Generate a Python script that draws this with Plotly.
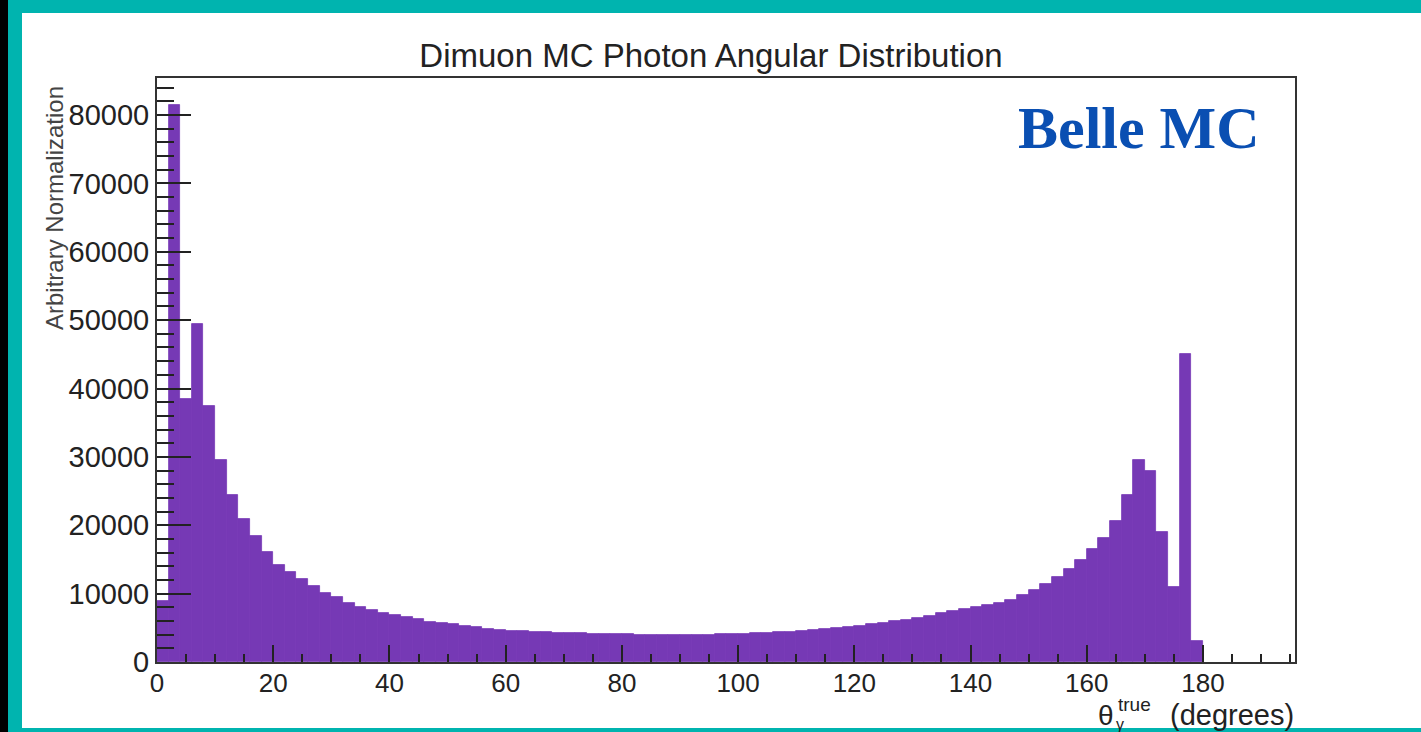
import plotly.graph_objects as go

# ---------------- data ----------------
bin_centers = [1, 3, 5, 7, 9, 11, 13, 15, 17, 19,
               21, 23, 25, 27, 29, 31, 33, 35, 37, 39,
               41, 43, 45, 47, 49, 51, 53, 55, 57, 59,
               61, 63, 65, 67, 69, 71, 73, 75, 77, 79,
               81, 83, 85, 87, 89, 91, 93, 95, 97, 99,
               101, 103, 105, 107, 109, 111, 113, 115, 117, 119,
               121, 123, 125, 127, 129, 131, 133, 135, 137, 139,
               141, 143, 145, 147, 149, 151, 153, 155, 157, 159,
               161, 163, 165, 167, 169, 171, 173, 175, 177, 179]
counts = [8900, 81500, 38500, 49500, 37500, 29500, 24400, 20900, 18500, 16100,
          14200, 13100, 12100, 11100, 10100, 9500, 8700, 8000, 7600, 7200,
          6900, 6600, 6300, 5900, 5700, 5500, 5300, 5100, 4900, 4750,
          4600, 4500, 4450, 4400, 4300, 4250, 4200, 4150, 4100, 4100,
          4050, 4000, 3950, 3900, 3900, 3950, 4000, 4000, 4050, 4100,
          4150, 4200, 4250, 4350, 4450, 4600, 4700, 4850, 5000, 5150,
          5300, 5500, 5700, 5950, 6200, 6500, 6800, 7100, 7400, 7700,
          8000, 8400, 8700, 9100, 9800, 10500, 11400, 12400, 13600, 14900,
          16500, 18200, 20600, 24400, 29600, 27900, 19000, 11000, 45100, 3000]
bin_width = 2

x_tick_vals = [0, 20, 40, 60, 80, 100, 120, 140, 160, 180]
x_tick_text = ["0", "20", "40", "60", "80", "100", "120", "140", "160", "180"]
y_tick_vals = [0, 10000, 20000, 30000, 40000, 50000, 60000, 70000, 80000]
y_tick_text = ["0", "10000", "20000", "30000", "40000", "50000", "60000", "70000", "80000"]

title_text = "Dimuon MC Photon Angular Distribution"
y_title = "Arbitrary Normalization"
badge = "Belle MC"

# ---------------- layout geometry ----------------
W, H = 1421, 732
L, R, T, B = 157, 1295, 78, 662
PURPLE = "#7639b5"
TEAL = "#00b4af"
SANS = "Liberation Sans, Arial, sans-serif"


def px(x):
    return (x - L) / (R - L)


def py(y):
    return (B - y) / (B - T)


fig = go.Figure()
fig.add_trace(go.Bar(
    x=bin_centers, y=counts, width=bin_width,
    marker=dict(color=PURPLE, line=dict(color=PURPLE, width=0.8)),
    showlegend=False, hoverinfo="x+y",
))

fig.update_layout(
    width=W, height=H,
    margin=dict(l=L, r=W - R, t=T, b=H - B, pad=0),
    paper_bgcolor="white", plot_bgcolor="white",
    bargap=0,
    font=dict(family=SANS, color="#222"),
    title=dict(text=title_text, x=711 / W, y=1 - 55 / H,
               xanchor="center", yanchor="middle",
               font=dict(family=SANS, size=33, color="#222")),
    xaxis=dict(
        range=[0, (R - L) / 5.811], showgrid=False, zeroline=False,
        showline=True, linecolor="#333", linewidth=2, mirror=True,
        ticks="inside", ticklen=17, tickwidth=2, tickcolor="#222",
        tickvals=x_tick_vals, ticktext=x_tick_text,
        minor=dict(ticks="inside", ticklen=8, tickwidth=1.5, tickcolor="#222",
                   dtick=5, tick0=0, showgrid=False),
        tickfont=dict(family=SANS, size=26, color="#222"),
        ticklabelstandoff=-3,
        layer="above traces",
    ),
    yaxis=dict(
        range=[0, (B - T) / 0.0068375], showgrid=False, zeroline=False,
        showline=True, linecolor="#333", linewidth=2, mirror=True,
        ticks="inside", ticklen=34, tickwidth=2, tickcolor="#222",
        tickvals=y_tick_vals, ticktext=y_tick_text,
        minor=dict(ticks="inside", ticklen=17, tickwidth=1.5, tickcolor="#222",
                   dtick=2000, tick0=0, showgrid=False),
        tickfont=dict(family=SANS, size=29, color="#222"),
        layer="above traces",
    ),
)

annotations = [
    dict(text=y_title, x=px(54), y=py(84), xref="paper", yref="paper",
         xanchor="center", yanchor="top", textangle=-90, showarrow=False,
         font=dict(family=SANS, size=24, color="#444")),
    dict(text="<b>" + badge + "</b>", x=px(1139), y=py(128), xref="paper", yref="paper",
         xanchor="center", yanchor="middle", showarrow=False,
         font=dict(family="Liberation Serif, Times New Roman, serif", size=60, color="#0a4fb2")),
    dict(text="(degrees)", x=px(1296), y=py(715), xref="paper", yref="paper",
         xanchor="right", yanchor="middle", showarrow=False,
         font=dict(family=SANS, size=29, color="#222")),
    dict(text="θ", x=px(1116), y=py(715), xref="paper", yref="paper",
         xanchor="right", yanchor="middle", showarrow=False,
         font=dict(family=SANS, size=28, color="#222")),
    dict(text="true", x=px(1116), y=py(704), xref="paper", yref="paper",
         xanchor="left", yanchor="middle", showarrow=False,
         font=dict(family=SANS, size=19, color="#222")),
    dict(text="γ", x=px(1114), y=py(724), xref="paper", yref="paper",
         xanchor="left", yanchor="middle", showarrow=False,
         font=dict(family=SANS, size=16, color="#222")),
]
fig.update_layout(annotations=annotations)

shapes = [
    dict(type="rect", xref="paper", yref="paper", x0=px(0), x1=px(8), y0=py(H), y1=py(0),
         fillcolor="black", line=dict(width=0), layer="above"),
    dict(type="rect", xref="paper", yref="paper", x0=px(8), x1=px(22), y0=py(H), y1=py(0),
         fillcolor=TEAL, line=dict(width=0), layer="above"),
    dict(type="rect", xref="paper", yref="paper", x0=px(8), x1=px(W), y0=py(13), y1=py(0),
         fillcolor=TEAL, line=dict(width=0), layer="above"),
    dict(type="rect", xref="paper", yref="paper", x0=px(8), x1=px(W), y0=py(H), y1=py(728),
         fillcolor=TEAL, line=dict(width=0), layer="above"),
]
fig.update_layout(shapes=shapes)

fig.write_html("out.html")
